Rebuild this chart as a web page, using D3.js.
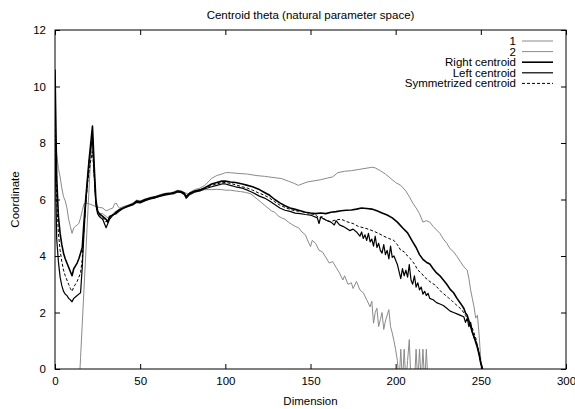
<!DOCTYPE html>
<html>
<head>
<meta charset="utf-8">
<script src="https://cdn.jsdelivr.net/npm/d3@7"></script>
<style>
    body { margin: 0; background: #fff; }
    svg { display: block; font-family: "Liberation Sans", Arial, sans-serif; }
</style>
</head>
<body>
<div id="chart"></div>
<script>

// [dimension, coordinate] pairs
var series1 = [
    [0, 8.5], [1, 7.6], [2, 7.1], [3, 6.8], [4, 6.4], [5, 6.1], [6, 5.95], [7, 5.7],
    [8, 5.3], [9, 5.05], [10, 4.8], [11, 5.0], [12, 5.05], [13, 5.1], [14, 5.15],
    [15, 5.35], [16, 5.6], [17, 5.85], [18, 5.87], [20, 5.85], [22, 5.8], [24, 5.75],
    [26, 5.72], [28, 5.7], [30, 5.6], [32, 5.65], [34, 5.7], [35, 5.85], [36, 5.87],
    [37, 5.75], [38, 5.7], [40, 5.75], [43, 5.8], [46, 5.88], [48, 5.98], [50, 5.95],
    [53, 6.02], [56, 6.08], [59, 6.1], [62, 6.18], [65, 6.22], [68, 6.24], [70, 6.28],
    [72, 6.33], [74, 6.3], [76, 6.25], [78, 6.2], [80, 6.28], [82, 6.35], [85, 6.4],
    [88, 6.5], [92, 6.75], [95, 6.85], [98, 6.9], [100, 6.95], [103, 6.95], [108, 6.92],
    [113, 6.9], [118, 6.85], [123, 6.82], [128, 6.78], [133, 6.74], [137, 6.65],
    [140, 6.58], [143, 6.5], [145, 6.55], [148, 6.62], [152, 6.66], [156, 6.7],
    [160, 6.76], [163, 6.8], [166, 6.95], [170, 7.0], [174, 7.02], [178, 7.06],
    [182, 7.1], [186, 7.14], [188, 7.12], [191, 7.02], [194, 6.9], [197, 6.75],
    [200, 6.6], [203, 6.5], [206, 6.3], [208, 6.1], [210, 5.88], [212, 5.7], [214, 5.5],
    [216, 5.2], [218, 5.25], [220, 5.2], [222, 5.05], [224, 4.92], [226, 4.8],
    [228, 4.6], [230, 4.45], [232, 4.25], [234, 4.15], [236, 3.98], [238, 3.8],
    [240, 3.62], [242, 3.5], [243, 3.2], [244, 2.8], [245, 2.5], [246, 2.2], [247, 1.8],
    [248, 1.9], [249, 1.2], [250, 0.3], [251, 0]
];

var series2 = [
    [13, -2], [15, 0.4], [16, 1.6], [17, 2.8], [18, 4.0], [19, 5.2], [20, 6.4],
    [21, 7.5], [22, 8.0], [23, 7.0], [24, 5.9], [25, 5.6], [26, 5.5], [28, 5.5],
    [30, 5.4], [32, 5.3], [34, 5.5], [36, 5.6], [38, 5.65], [40, 5.7], [43, 5.76],
    [46, 5.82], [48, 5.92], [50, 5.88], [53, 5.97], [56, 6.02], [59, 6.07], [62, 6.12],
    [65, 6.16], [68, 6.18], [70, 6.2], [72, 6.26], [74, 6.24], [76, 6.15], [77, 6.02],
    [79, 6.15], [82, 6.25], [85, 6.3], [88, 6.35], [92, 6.35], [95, 6.36], [98, 6.35],
    [100, 6.33], [103, 6.33], [106, 6.3], [109, 6.28], [112, 6.25], [115, 6.2],
    [117, 6.1], [119, 6.0], [121, 5.9], [123, 5.8], [125, 5.7], [127, 5.6], [129, 5.55],
    [131, 5.42], [133, 5.35], [135, 5.3], [137, 5.2], [139, 5.12], [141, 5.05],
    [143, 5.0], [145, 4.85], [147, 4.75], [148, 4.6], [150, 4.33], [151, 4.55],
    [153, 4.45], [155, 4.2], [157, 4.15], [159, 3.95], [161, 3.75], [163, 3.8],
    [165, 3.6], [167, 3.4], [169, 3.15], [170, 3.3], [172, 3.0], [174, 3.05],
    [175, 2.85], [177, 3.1], [179, 2.8], [181, 2.7], [183, 2.45], [185, 2.2],
    [186, 2.4], [187, 1.62], [188, 2.0], [189, 2.15], [190, 1.5], [191, 1.75],
    [192, 2.0], [193, 1.4], [194, 1.7], [196, 2.1], [197, 1.5], [198, 1.27],
    [199, 1.0], [200, 0.68], [201, 0.3], [202, -0.5], [203, 0.7], [204, -0.5],
    [205, 0.7], [206, -0.5], [207, 0.3], [208, 1.04], [209, -0.5], [211, -0.5],
    [212, 0.7], [213, -0.5], [214, 0.7], [215, -0.5], [216, 0.7], [217, -0.5],
    [218, 0.7], [219, -0.5], [220, -1]
];

var rightCentroid = [
    [0, 10.6], [1, 6.8], [2, 5.4], [3, 4.8], [4, 4.4], [5, 4.1], [6, 3.9], [7, 3.75],
    [8, 3.6], [9, 3.45], [10, 3.3], [11, 3.55], [12, 3.65], [13, 3.75], [14, 3.9],
    [15, 4.1], [16, 4.3], [17, 5.2], [18, 6.0], [19, 6.7], [20, 7.4], [21, 8.0],
    [22, 8.6], [23, 7.2], [24, 6.0], [25, 5.6], [26, 5.5], [28, 5.4], [30, 5.3],
    [31, 5.2], [32, 5.4], [34, 5.45], [36, 5.55], [38, 5.65], [40, 5.7], [43, 5.78],
    [46, 5.85], [48, 5.95], [50, 5.92], [53, 6.0], [56, 6.05], [59, 6.1], [62, 6.15],
    [65, 6.2], [68, 6.22], [70, 6.25], [72, 6.3], [74, 6.28], [76, 6.22], [77, 6.1],
    [79, 6.22], [82, 6.3], [85, 6.34], [88, 6.42], [92, 6.55], [95, 6.6], [98, 6.65],
    [100, 6.65], [103, 6.62], [106, 6.6], [110, 6.55], [113, 6.5], [116, 6.45],
    [120, 6.35], [123, 6.25], [126, 6.15], [129, 6.0], [132, 5.88], [135, 5.78],
    [138, 5.7], [141, 5.65], [144, 5.6], [147, 5.55], [150, 5.52], [153, 5.5],
    [156, 5.52], [159, 5.5], [162, 5.55], [165, 5.57], [168, 5.6], [171, 5.62],
    [174, 5.63], [177, 5.66], [180, 5.7], [183, 5.68], [186, 5.66], [189, 5.6],
    [192, 5.52], [195, 5.45], [198, 5.35], [201, 5.2], [204, 5.0], [207, 4.82],
    [210, 4.5], [212, 4.3], [214, 4.05], [216, 3.88], [218, 3.78], [220, 3.72],
    [222, 3.55], [224, 3.4], [226, 3.3], [228, 3.15], [230, 3.0], [232, 2.82],
    [234, 2.7], [236, 2.5], [238, 2.33], [240, 2.15], [241, 1.98], [242, 1.9],
    [243, 1.7], [244, 1.5], [245, 1.3], [246, 1.15], [247, 0.95], [248, 0.75],
    [249, 0.5], [250, 0.2], [251, 0]
];

var leftCentroid = [
    [0, 8.0], [1, 4.6], [2, 3.8], [3, 3.25], [4, 2.95], [5, 2.75], [6, 2.65], [7, 2.6],
    [8, 2.5], [9, 2.45], [10, 2.38], [11, 2.5], [12, 2.55], [13, 2.6], [14, 2.65],
    [15, 2.7], [16, 3.6], [17, 4.8], [18, 5.8], [19, 6.6], [20, 7.3], [21, 7.8],
    [22, 8.2], [23, 6.9], [24, 5.8], [25, 5.5], [26, 5.4], [28, 5.3], [30, 5.0],
    [31, 5.15], [32, 5.3], [34, 5.45], [36, 5.5], [38, 5.6], [40, 5.68], [43, 5.75],
    [46, 5.82], [48, 5.9], [50, 5.88], [53, 5.96], [56, 6.02], [59, 6.06], [62, 6.12],
    [65, 6.16], [68, 6.2], [70, 6.22], [72, 6.27], [74, 6.25], [76, 6.18], [77, 6.05],
    [79, 6.18], [82, 6.27], [85, 6.3], [88, 6.38], [92, 6.45], [95, 6.5], [98, 6.55],
    [100, 6.55], [103, 6.5], [106, 6.45], [110, 6.4], [113, 6.33], [116, 6.25],
    [120, 6.12], [123, 6.05], [126, 5.95], [129, 5.82], [132, 5.7], [135, 5.62],
    [138, 5.58], [141, 5.52], [144, 5.5], [147, 5.47], [150, 5.45], [152, 5.4],
    [154, 5.35], [155, 5.15], [156, 5.38], [158, 5.3], [160, 5.25], [162, 5.2],
    [164, 5.1], [165, 5.25], [167, 5.1], [169, 5.05], [171, 4.98], [173, 4.9],
    [175, 4.95], [177, 4.85], [179, 4.7], [180, 4.85], [181, 4.62], [182, 4.75],
    [183, 4.55], [184, 4.8], [185, 4.5], [186, 4.6], [187, 4.35], [188, 4.7],
    [189, 4.3], [190, 4.45], [191, 4.2], [192, 4.1], [193, 4.4], [194, 4.05],
    [195, 4.2], [196, 3.9], [197, 4.35], [198, 3.95], [199, 4.0], [200, 3.85],
    [201, 3.7], [202, 3.45], [203, 3.2], [204, 3.55], [205, 3.3], [206, 3.5],
    [207, 3.25], [208, 3.7], [209, 3.15], [210, 3.0], [211, 3.3], [212, 2.9],
    [213, 3.05], [214, 2.8], [215, 2.9], [216, 2.65], [217, 2.75], [218, 2.6],
    [219, 2.68], [220, 2.5], [222, 2.45], [224, 2.35], [226, 2.3], [228, 2.25],
    [230, 2.15], [232, 2.05], [234, 2.0], [236, 1.95], [238, 1.9], [240, 1.85],
    [241, 1.65], [242, 1.8], [243, 1.5], [244, 1.65], [245, 1.3], [246, 1.1],
    [247, 1.0], [248, 0.8], [249, 0.55], [250, 0.2], [251, 0]
];

var symmetrizedCentroid = [
    [0, 9.2], [1, 6.0], [2, 4.8], [3, 4.2], [4, 3.8], [5, 3.5], [6, 3.3], [7, 3.15],
    [8, 3.0], [9, 2.85], [10, 2.75], [11, 2.9], [12, 3.0], [13, 3.1], [14, 3.25],
    [15, 3.4], [16, 3.9], [17, 5.0], [18, 5.8], [19, 6.5], [20, 7.0], [21, 7.4],
    [22, 7.7], [23, 6.8], [24, 5.9], [25, 5.55], [26, 5.45], [28, 5.35], [30, 5.2],
    [32, 5.35], [34, 5.45], [36, 5.55], [38, 5.62], [40, 5.7], [43, 5.78], [46, 5.84],
    [48, 5.92], [50, 5.9], [53, 5.98], [56, 6.04], [59, 6.08], [62, 6.14], [65, 6.18],
    [68, 6.2], [70, 6.24], [72, 6.28], [74, 6.26], [76, 6.2], [77, 6.12], [79, 6.2],
    [82, 6.28], [85, 6.32], [88, 6.4], [92, 6.5], [95, 6.55], [98, 6.6], [100, 6.6],
    [103, 6.57], [106, 6.52], [110, 6.45], [113, 6.4], [116, 6.33], [120, 6.22],
    [123, 6.15], [126, 6.05], [129, 5.92], [132, 5.8], [135, 5.72], [138, 5.65],
    [141, 5.6], [144, 5.58], [147, 5.55], [150, 5.5], [153, 5.45], [155, 5.35],
    [157, 5.4], [159, 5.25], [162, 5.22], [165, 5.28], [168, 5.3], [170, 5.25],
    [172, 5.2], [175, 5.15], [178, 5.05], [181, 5.0], [184, 4.95], [187, 4.88],
    [190, 4.8], [193, 4.7], [196, 4.62], [199, 4.55], [201, 4.4], [203, 4.2],
    [205, 4.15], [207, 4.0], [209, 3.88], [211, 3.72], [213, 3.5], [215, 3.4],
    [217, 3.25], [219, 3.15], [221, 3.05], [223, 2.98], [225, 2.85], [227, 2.72],
    [229, 2.62], [231, 2.52], [233, 2.42], [235, 2.3], [237, 2.2], [239, 2.08],
    [241, 1.9], [243, 1.7], [245, 1.45], [247, 1.1], [248, 0.8], [249, 0.5],
    [250, 0.15], [251, 0]
];

var xTicks = [0, 50, 100, 150, 200, 250, 300];
var yTicks = [0, 2, 4, 6, 8, 10, 12];

var legendLabels = ['1', '2', 'Right centroid', 'Left centroid', 'Symmetrized centroid'];

var width = 575;
var height = 409;
var margin = {top: 30, right: 9, bottom: 40, left: 55};
var plotW = width - margin.left - margin.right;
var plotH = height - margin.top - margin.bottom;
var fontSize = '11.5px';

var svg = d3.select('#chart').append('svg')
    .attr('width', width)
    .attr('height', height);

svg.append('rect')
    .attr('width', width)
    .attr('height', height)
    .attr('fill', '#fff');

var x = d3.scaleLinear().domain([0, 300]).range([0, plotW]);
var y = d3.scaleLinear().domain([0, 12]).range([plotH, 0]);

var plot = svg.append('g')
    .attr('transform', 'translate(' + margin.left + ',' + margin.top + ')');

plot.append('clipPath')
    .attr('id', 'plot-clip')
  .append('rect')
    .attr('width', plotW)
    .attr('height', plotH);

/**
 * gnuplot style ticks: pointing inward, mirrored on the opposite side.
 */
function drawAxes() {
    var tickLen = 5;

    plot.append('g')
        .attr('transform', 'translate(0,' + plotH + ')')
        .call(d3.axisBottom(x).tickValues(xTicks).tickSize(-tickLen).tickPadding(8))
        .call(styleAxis);

    plot.append('g')
        .call(d3.axisTop(x).tickValues(xTicks).tickSize(-tickLen).tickFormat(''))
        .call(styleAxis);

    plot.append('g')
        .call(d3.axisLeft(y).tickValues(yTicks).tickSize(-tickLen).tickPadding(9))
        .call(styleAxis);

    plot.append('g')
        .attr('transform', 'translate(' + plotW + ',0)')
        .call(d3.axisRight(y).tickValues(yTicks).tickSize(-tickLen).tickFormat(''))
        .call(styleAxis);

    plot.append('rect')
        .attr('width', plotW)
        .attr('height', plotH)
        .attr('fill', 'none')
        .attr('stroke', '#000')
        .attr('stroke-width', 1);
}

function styleAxis(g) {
    g.select('.domain').remove();
    g.selectAll('.tick line').attr('stroke', '#000');
    g.selectAll('.tick text')
        .attr('fill', '#000')
        .style('font-size', fontSize)
        .style('font-family', '"Liberation Sans", Arial, sans-serif');
}

var line = d3.line()
    .x(function (d) { return x(d[0]); })
    .y(function (d) { return y(d[1]); });

var styles = [
    {data: series1, stroke: '#8a8a8a', width: 1, dash: null},
    {data: series2, stroke: '#8a8a8a', width: 1, dash: null},
    {data: rightCentroid, stroke: '#000', width: 1.6, dash: null},
    {data: leftCentroid, stroke: '#000', width: 1.2, dash: null},
    {data: symmetrizedCentroid, stroke: '#000', width: 1, dash: '3,2'}
];

var lines = plot.append('g').attr('clip-path', 'url(#plot-clip)');
styles.forEach(function (s) {
    lines.append('path')
        .datum(s.data)
        .attr('d', line)
        .attr('fill', 'none')
        .attr('stroke', s.stroke)
        .attr('stroke-width', s.width)
        .attr('stroke-dasharray', s.dash)
        .attr('stroke-linejoin', 'round');
});

drawAxes();

// Legend, top right, labels right aligned before a short sample line
var legend = svg.append('g');
legendLabels.forEach(function (label, i) {
    var ly = 41 + i * 10.6;
    var s = styles[i];
    legend.append('text')
        .attr('x', 516)
        .attr('y', ly)
        .attr('dy', '0.35em')
        .attr('text-anchor', 'end')
        .style('font-size', fontSize)
        .text(label);
    legend.append('line')
        .attr('x1', 522)
        .attr('x2', 553)
        .attr('y1', ly)
        .attr('y2', ly)
        .attr('stroke', s.stroke)
        .attr('stroke-width', s.width)
        .attr('stroke-dasharray', s.dash);
});

svg.append('text')
    .attr('x', margin.left + plotW / 2)
    .attr('y', 19)
    .attr('text-anchor', 'middle')
    .style('font-size', fontSize)
    .text('Centroid theta (natural parameter space)');

svg.append('text')
    .attr('x', margin.left + plotW / 2)
    .attr('y', 405)
    .attr('text-anchor', 'middle')
    .style('font-size', fontSize)
    .text('Dimension');

svg.append('text')
    .attr('transform', 'translate(19,' + (margin.top + plotH / 2) + ') rotate(-90)')
    .attr('text-anchor', 'middle')
    .style('font-size', fontSize)
    .text('Coordinate');

</script>
</body>
</html>
